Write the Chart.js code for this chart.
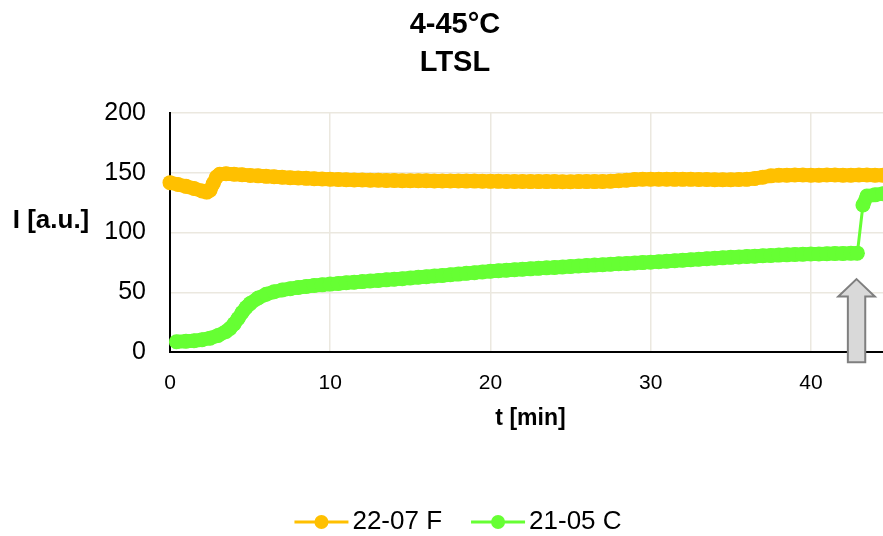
<!DOCTYPE html>
<html>
<head>
<meta charset="utf-8">
<script src="https://cdn.jsdelivr.net/npm/chart.js@4.4.1/dist/chart.umd.min.js"></script>
<style>
  html, body { margin: 0; padding: 0; background: #fff; overflow: hidden; }
  canvas { display: block; }
</style>
</head>
<body>
<canvas id="chart" width="910" height="536"></canvas>
<script>
// ---- chart text ----
const titleLines = ['4-45°C', 'LTSL'];
const xAxisTitle = 't [min]';
const yAxisTitle = 'I [a.u.]';
const xTickValues = [0, 10, 20, 30, 40];
const yTickValues = [0, 50, 100, 150, 200];
const seriesNames = ['22-07 F', '21-05 C'];

// ---- series 22-07 F (time in min, intensity in a.u.) ----
const fTime = [0, 0.5, 1, 1.5, 2, 2.3, 2.5, 2.7, 2.9, 3.1,
  3.5, 4, 4.5, 5, 5.5, 6, 6.5, 7, 7.5, 8, 8.5, 9, 9.5, 10, 10.5, 11, 11.5, 12, 12.5, 13, 13.5, 14, 14.5,
  15, 15.5, 16, 16.5, 17, 17.5, 18, 18.5, 19, 19.5, 20, 20.5, 21, 21.5, 22, 22.5, 23, 23.5, 24, 24.5,
  25, 25.5, 26, 26.5, 27, 27.5, 28, 28.5, 29, 29.5, 30, 30.5, 31, 31.5, 32, 32.5, 33, 33.5, 34, 34.5,
  35, 35.5, 36, 36.5, 37, 37.5, 38, 38.5, 39, 39.5, 40, 40.5, 41, 41.5, 42, 42.5, 43, 43.5, 44, 44.5, 45];
const fValue = [141.7, 140.2, 138.6, 136.8, 134.8, 133.8, 135.5, 141.0, 146.5, 148.8,
  149.2, 148.8, 148.3, 147.8, 147.4, 147.0, 146.6, 146.2, 145.9, 145.6, 145.3, 145.0, 144.8, 144.6, 144.4, 144.2, 144.0, 143.9, 143.8, 143.7, 143.6, 143.5, 143.4,
  143.4, 143.3, 143.3, 143.2, 143.2, 143.1, 143.1, 143.0, 143.0, 142.9, 142.8, 142.8, 142.7, 142.7, 142.7, 142.6, 142.6, 142.6, 142.6, 142.5,
  142.5, 142.6, 142.6, 142.6, 142.7, 142.9, 143.3, 143.8, 144.3, 144.6, 144.6, 144.6, 144.6, 144.5, 144.5, 144.5, 144.4, 144.3, 144.2, 144.1,
  144.2, 144.3, 144.5, 145.2, 146.3, 147.4, 147.9, 148.0, 148.1, 148.1, 148.0, 148.0, 148.1, 148.1, 148.0, 148.0, 148.1, 148.1, 148.0, 148.0, 148.0];

// ---- series 21-05 C ----
const cTime = [0.4, 1, 1.5, 2, 2.5, 3, 3.5, 3.75, 4, 4.25, 4.5, 4.75, 5, 5.5, 6, 6.5, 7, 7.5, 8, 8.5, 9, 9.5,
  10, 10.5, 11, 11.5, 12, 12.5, 13, 13.5, 14, 14.5, 15, 15.5, 16, 16.5, 17, 17.5, 18, 18.5, 19, 19.5,
  20, 20.5, 21, 21.5, 22, 22.5, 23, 23.5, 24, 24.5, 25, 25.5, 26, 26.5, 27, 27.5, 28, 28.5, 29, 29.5,
  30, 30.5, 31, 31.5, 32, 32.5, 33, 33.5, 34, 34.5, 35, 35.5, 36, 36.5, 37, 37.5, 38, 38.5, 39, 39.5,
  40, 40.5, 41, 41.5, 42, 42.5, 42.9, 43.25, 43.5, 44, 44.5, 45];
const cValue = [8.6, 9.0, 9.4, 10.3, 11.6, 13.8, 17.2, 19.8, 23.5, 28.0, 33.0, 37.2, 40.5, 45.2, 48.3, 50.4, 51.9, 53.0, 54.0, 54.8, 55.6, 56.2,
  56.8, 57.3, 57.9, 58.4, 58.9, 59.4, 59.9, 60.4, 60.9, 61.4, 62.0, 62.5, 63.0, 63.6, 64.1, 64.6, 65.2, 65.8, 66.4, 67.0,
  67.6, 68.0, 68.4, 68.8, 69.2, 69.6, 70.0, 70.4, 70.8, 71.2, 71.6, 72.0, 72.4, 72.7, 73.1, 73.4, 73.8, 74.1, 74.5, 74.8,
  75.2, 75.6, 76.0, 76.4, 76.8, 77.2, 77.6, 78.0, 78.4, 78.8, 79.2, 79.6, 79.9, 80.2, 80.5, 80.8, 81.1, 81.3, 81.6, 81.8,
  82.0, 82.1, 82.3, 82.4, 82.5, 82.6, 82.7, 123.0, 130.5, 131.5, 132.5, 133.0];

// ---- up-arrow marking the step of 21-05 C ----
const arrowTime = 42.85;   // min
const arrowTip = 61;       // a.u.
const arrowBottom = -8.5;  // a.u.

const FONT = "'Liberation Sans', Arial, sans-serif";
const ORANGE = '#FFC000';
const GREEN = '#66FF33';
const GRID = '#ebe8df';

function toPoints(ts, vs) {
  return ts.map((t, i) => ({ x: t, y: vs[i] }));
}

// Horizontal y-axis caption left of the tick labels
const yCaptionPlugin = {
  id: 'yCaption',
  afterDraw(chart) {
    const ctx = chart.ctx;
    ctx.save();
    ctx.font = 'bold 26px ' + FONT;
    ctx.fillStyle = '#000';
    ctx.textAlign = 'center';
    ctx.textBaseline = 'middle';
    ctx.fillText(yAxisTitle, 51, 221);
    ctx.restore();
  }
};

// Block arrow pointing up at the step
const arrowPlugin = {
  id: 'stepArrow',
  afterDraw(chart) {
    const xs = chart.scales.x, ys = chart.scales.y;
    const cx = xs.getPixelForValue(arrowTime);
    const top = ys.getPixelForValue(arrowTip);
    const bottom = ys.getPixelForValue(arrowBottom);
    const headH = 17.5, headW = 18.3, shaftW = 8.7;
    const ctx = chart.ctx;
    ctx.save();
    ctx.beginPath();
    ctx.moveTo(cx, top);
    ctx.lineTo(cx + headW, top + headH);
    ctx.lineTo(cx + shaftW, top + headH);
    ctx.lineTo(cx + shaftW, bottom);
    ctx.lineTo(cx - shaftW, bottom);
    ctx.lineTo(cx - shaftW, top + headH);
    ctx.lineTo(cx - headW, top + headH);
    ctx.closePath();
    ctx.fillStyle = '#d9d9d9';
    ctx.fill();
    ctx.lineWidth = 2;
    ctx.strokeStyle = '#7f7f7f';
    ctx.lineJoin = 'miter';
    ctx.stroke();
    ctx.restore();
  }
};

// Legend: line with a marker, then the series name
const legendPlugin = {
  id: 'lineLegend',
  afterDraw(chart) {
    const ctx = chart.ctx;
    const lineLen = 54, gapText = 4, gapItem = 29, y = 522;
    ctx.save();
    ctx.font = '26px ' + FONT;
    const items = chart.data.datasets.map(ds => ({ text: ds.label, color: ds.pointBackgroundColor, w: ctx.measureText(ds.label).width }));
    const total = items.reduce((s, it, i) => s + lineLen + gapText + it.w + (i ? gapItem : 0), 0);
    let x = chart.width / 2 + 3 - total / 2;
    items.forEach((it, i) => {
      if (i) x += gapItem;
      ctx.strokeStyle = it.color;
      ctx.lineWidth = 3;
      ctx.beginPath();
      ctx.moveTo(x, y);
      ctx.lineTo(x + lineLen, y);
      ctx.stroke();
      ctx.fillStyle = it.color;
      ctx.beginPath();
      ctx.arc(x + lineLen / 2, y, 7, 0, Math.PI * 2);
      ctx.fill();
      x += lineLen + gapText;
      ctx.fillStyle = '#000';
      ctx.textAlign = 'left';
      ctx.textBaseline = 'middle';
      ctx.fillText(it.text, x, y);
      x += it.w;
    });
    ctx.restore();
  }
};

// Dense markers form a broad band; a sudden jump is drawn as a thin connector
const seriesStyle = (color) => ({
  borderColor: color,
  backgroundColor: color,
  pointBackgroundColor: color,
  pointBorderColor: color,
  pointBorderWidth: 0,
  pointRadius: 7.5,
  borderWidth: 14,
  borderCapStyle: 'round',
  borderJoinStyle: 'round',
  segment: {
    borderWidth: c => (Math.abs(c.p1.parsed.y - c.p0.parsed.y) > 20 ? 3 : 14)
  },
  tension: 0,
  clip: false
});

new Chart(document.getElementById('chart'), {
  type: 'line',
  data: {
    datasets: [
      Object.assign({ label: seriesNames[0], data: toPoints(fTime, fValue) }, seriesStyle(ORANGE)),
      Object.assign({ label: seriesNames[1], data: toPoints(cTime, cValue) }, seriesStyle(GREEN))
    ]
  },
  options: {
    responsive: false,
    animation: false,
    devicePixelRatio: 1,
    layout: { padding: { left: 0, right: 0, top: 0, bottom: 104 } },
    plugins: {
      legend: { display: false },
      tooltip: { enabled: false },
      title: {
        display: true,
        text: titleLines,
        color: '#000',
        font: { family: FONT, size: 29, weight: 'bold', lineHeight: 38 / 29 },
        padding: { top: 6, bottom: 31 }
      }
    },
    scales: {
      x: {
        type: 'linear',
        min: 0,
        max: 45,
        afterBuildTicks: s => { s.ticks = xTickValues.map(v => ({ value: v })); },
        afterFit: s => { s.height = 80; },
        grid: { color: GRID, lineWidth: 1.5, drawTicks: false },
        border: { display: true, color: '#000', width: 2 },
        ticks: { padding: 19, color: '#000', maxRotation: 0, font: { family: FONT, size: 21 } },
        title: { display: true, text: xAxisTitle, color: '#000', padding: 0, font: { family: FONT, size: 23, weight: 'bold' } }
      },
      y: {
        type: 'linear',
        min: 0,
        max: 200,
        afterBuildTicks: s => { s.ticks = yTickValues.map(v => ({ value: v })); },
        afterFit: s => { s.width = 170; },
        grid: { color: GRID, lineWidth: 1.5, drawTicks: false },
        border: { display: true, color: '#000', width: 2 },
        ticks: { padding: 24, color: '#000', font: { family: FONT, size: 25 } }
      },
      yRight: {
        type: 'linear',
        position: 'right',
        grid: { display: false },
        border: { display: false },
        ticks: { display: false },
        afterFit: s => { s.width = 19; }
      }
    }
  },
  plugins: [yCaptionPlugin, arrowPlugin, legendPlugin]
});
</script>
</body>
</html>
